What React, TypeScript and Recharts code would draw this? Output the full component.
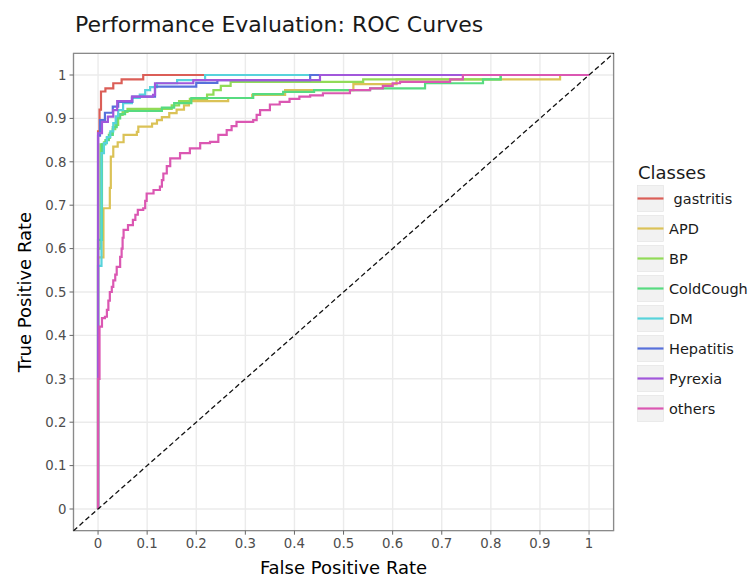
import { CartesianGrid, Line, LineChart, ReferenceArea, XAxis, YAxis } from "recharts";

const font = "DejaVu Sans, Verdana, sans-serif";

const classNames = [" gastritis", "APD", "BP", "ColdCough", "DM", "Hepatitis", "Pyrexia", "others"];
const classColors = ["#DB5E57", "#DBC257", "#91DB57", "#57DB80", "#57D3DB", "#5770DB", "#A157DB", "#DB57B2"];

// [fpr, tpr] points of each ROC curve
const gastritisRoc = [
  [0, 0], [0, 0.87], [0.003, 0.92], [0.006, 0.962], [0.015, 0.969], [0.031, 0.981],
  [0.048, 0.99], [0.092, 1], [1, 1],
];
const apdRoc = [
  [0, 0], [0, 0.58], [0.011, 0.693], [0.024, 0.74], [0.026, 0.812], [0.031, 0.835],
  [0.04, 0.845], [0.052, 0.862], [0.079, 0.869], [0.082, 0.881], [0.11, 0.888],
  [0.12, 0.896], [0.13, 0.903], [0.145, 0.912], [0.16, 0.92], [0.175, 0.93],
  [0.185, 0.94], [0.265, 0.947], [0.314, 0.954], [0.381, 0.965], [0.52, 0.979],
  [0.608, 0.99], [0.941, 1], [1, 1],
];
const bpRoc = [
  [0, 0], [0, 0.6], [0.005, 0.84], [0.012, 0.845], [0.018, 0.855], [0.024, 0.866],
  [0.03, 0.875], [0.035, 0.885], [0.041, 0.908], [0.05, 0.915], [0.06, 0.922],
  [0.15, 0.93], [0.165, 0.94], [0.187, 0.945], [0.222, 0.955], [0.235, 0.965],
  [0.25, 0.975], [0.27, 0.984], [0.54, 0.99], [0.82, 1], [1, 1],
];
const coldCoughRoc = [
  [0, 0], [0, 0.62], [0.008, 0.84], [0.015, 0.85], [0.022, 0.862], [0.03, 0.88],
  [0.038, 0.9], [0.045, 0.91], [0.055, 0.917], [0.13, 0.925], [0.155, 0.935],
  [0.19, 0.947], [0.316, 0.956], [0.377, 0.961], [0.44, 0.965], [0.554, 0.969],
  [0.666, 0.981], [0.784, 0.99], [0.82, 1], [1, 1],
];
const dmRoc = [
  [0, 0], [0, 0.56], [0.007, 0.82], [0.012, 0.843], [0.018, 0.857], [0.025, 0.87],
  [0.031, 0.889], [0.036, 0.905], [0.041, 0.919], [0.051, 0.935], [0.069, 0.947],
  [0.085, 0.955], [0.096, 0.965], [0.106, 0.972], [0.12, 0.981], [0.161, 0.988],
  [0.218, 1], [1, 1],
];
const hepatitisRoc = [
  [0, 0], [0, 0.86], [0.004, 0.896], [0.014, 0.913], [0.03, 0.927], [0.041, 0.938],
  [0.07, 0.95], [0.116, 0.973], [0.2, 0.982], [0.243, 0.988], [0.432, 1], [1, 1],
];
const pyrexiaRoc = [
  [0, 0], [0, 0.866], [0.008, 0.892], [0.02, 0.904], [0.031, 0.919], [0.039, 0.94],
  [0.069, 0.95], [0.112, 0.954], [0.116, 0.981], [0.194, 0.988], [0.452, 1], [1, 1],
];
const othersRoc = [
  [0, 0], [0, 0.3], [0.003, 0.42], [0.008, 0.44], [0.014, 0.443], [0.018, 0.459],
  [0.021, 0.48], [0.024, 0.5], [0.028, 0.512], [0.031, 0.527], [0.035, 0.54],
  [0.038, 0.558], [0.045, 0.581], [0.048, 0.6], [0.05, 0.625], [0.052, 0.643],
  [0.061, 0.654], [0.071, 0.666], [0.076, 0.678], [0.081, 0.689], [0.092, 0.693],
  [0.096, 0.71], [0.099, 0.727], [0.113, 0.735], [0.126, 0.743], [0.13, 0.758],
  [0.133, 0.773], [0.14, 0.79], [0.147, 0.808], [0.167, 0.82], [0.187, 0.831],
  [0.208, 0.843], [0.228, 0.846], [0.245, 0.862], [0.262, 0.873], [0.272, 0.882],
  [0.282, 0.892], [0.316, 0.896], [0.323, 0.908], [0.33, 0.919], [0.35, 0.932],
  [0.37, 0.938], [0.39, 0.945], [0.41, 0.95], [0.432, 0.953], [0.458, 0.958],
  [0.513, 0.965], [0.554, 0.969], [0.58, 0.975], [0.6, 0.981], [0.615, 0.984],
  [0.717, 0.99], [0.743, 1], [1, 1],
];
const chanceLine = [[-0.05, -0.05], [1.05, 1.05]];

const rocCurves = [gastritisRoc, apdRoc, bpRoc, coldCoughRoc, dmRoc, hepatitisRoc, pyrexiaRoc, othersRoc];

const majorTicks = [0, 0.1, 0.2, 0.3, 0.4, 0.5, 0.6, 0.7, 0.8, 0.9, 1];
const minorTicks = [0.05, 0.15, 0.25, 0.35, 0.45, 0.55, 0.65, 0.75, 0.85, 0.95];
const axisDomain = [-0.05, 1.05];

const toPoints = (pts: number[][]) => pts.map(([x, y]) => ({ x, y }));

const tickStyle = { fill: "#4d4d4d", fontSize: 13.3, fontFamily: font };

function LegendBox() {
  return (
    <div style={{ position: "absolute", left: 637, top: 164, fontFamily: font }}>
      <div style={{ fontSize: 18, lineHeight: "18px", color: "#1a1a1a", marginLeft: 1, height: 21 }}>Classes</div>
      {classNames.map((name, i) => (
        <div key={name} style={{ display: "flex", alignItems: "center", height: 27, marginBottom: 3 }}>
          <svg width={27} height={27} style={{ display: "block" }}>
            <rect x={0.5} y={0.5} width={26} height={26} fill="#f2f2f2" stroke="#e2e2e2" strokeWidth={0.6} />
            <line x1={0.5} x2={26.5} y1={13.5} y2={13.5} stroke={classColors[i]} strokeWidth={2.2} />
          </svg>
          <span style={{ marginLeft: 5, fontSize: 14.5, color: "#1a1a1a", whiteSpace: "pre" }}>{name}</span>
        </div>
      ))}
    </div>
  );
}

export default function App() {
  return (
    <div style={{ position: "absolute", left: 0, top: 0, width: 751, height: 577, background: "#fff" }}>
      <div
        style={{
          position: "absolute",
          left: 75,
          top: 14.4,
          fontFamily: font,
          fontSize: 22,
          lineHeight: "22px",
          color: "#1a1a1a",
          whiteSpace: "nowrap",
        }}
      >
        Performance Evaluation: ROC Curves
      </div>
      <LineChart width={751} height={577} margin={{ top: 53.3, right: 137.4, bottom: 0, left: 0 }}>
        <XAxis
          xAxisId="minor"
          type="number"
          dataKey="x"
          domain={axisDomain}
          ticks={minorTicks}
          hide
        />
        <YAxis yAxisId="minor" type="number" domain={axisDomain} ticks={minorTicks} hide />
        <CartesianGrid xAxisId="minor" yAxisId="minor" stroke="#f3f3f3" strokeWidth={0.8} />
        <CartesianGrid stroke="#ebebeb" strokeWidth={1.4} />
        <XAxis
          type="number"
          dataKey="x"
          domain={axisDomain}
          ticks={majorTicks}
          interval={0}
          height={46.3}
          axisLine={false}
          tickSize={4}
          tickMargin={4}
          tickLine={{ stroke: "#666" }}
          tick={tickStyle}
          label={{
            value: "False Positive Rate",
            position: "insideBottom",
            offset: 3,
            fill: "#000",
            fontSize: 18,
            fontFamily: font,
          }}
        />
        <YAxis
          type="number"
          domain={axisDomain}
          ticks={majorTicks}
          interval={0}
          width={73.5}
          axisLine={false}
          tickSize={4}
          tickMargin={3}
          tickLine={{ stroke: "#666" }}
          tick={tickStyle}
          label={{
            value: "True Positive Rate",
            angle: -90,
            position: "insideLeft",
            offset: 25,
            fill: "#000",
            fontSize: 18,
            fontFamily: font,
            style: { textAnchor: "middle" },
          }}
        />
        {rocCurves.map((curve, i) => (
          <Line
            key={classNames[i]}
            data={toPoints(curve)}
            dataKey="y"
            type="stepAfter"
            stroke={classColors[i]}
            strokeWidth={2.2}
            dot={false}
            activeDot={false}
            isAnimationActive={false}
          />
        ))}
        <Line
          data={toPoints(chanceLine)}
          dataKey="y"
          type="linear"
          stroke="#111"
          strokeWidth={1.3}
          strokeDasharray="5 3"
          dot={false}
          activeDot={false}
          isAnimationActive={false}
        />
        <ReferenceArea
          x1={-0.05}
          x2={1.05}
          y1={-0.05}
          y2={1.05}
          fill="none"
          stroke="#8a8a8a"
          strokeWidth={1.3}
          ifOverflow="visible"
        />
      </LineChart>
      <LegendBox />
    </div>
  );
}
